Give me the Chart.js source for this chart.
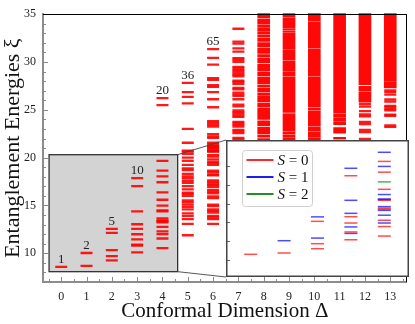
<!DOCTYPE html>
<html><head><meta charset="utf-8">
<script src="https://cdn.jsdelivr.net/npm/chart.js@4"></script>
<style>
html,body{margin:0;padding:0;background:#fff;}
#wrap{position:relative;width:415px;height:324px;overflow:hidden;}
#main{position:absolute;left:0;top:0;}
#inset{position:absolute;left:226px;top:140px;}
</style></head><body>
<div id="wrap"><canvas id="main" width="415" height="324"></canvas><canvas id="inset" width="183" height="137"></canvas></div>
<script>
// ---------- data: entanglement levels per conformal dimension ----------
const levels0 = [8.58];
const levels1 = [10.03, 8.68];
const levels2 = [12.56, 12.13, 10.34, 9.7, 9.26];
const levels3 = [17.87, 17.02, 14.39, 13.04, 12.56, 11.99, 11.45, 10.9, 10.8, 10.1];
const levels4 = [26.22, 25.5, 19.66, 18.64, 18.04, 17.43, 16.38, 15.6, 14.99, 14.49, 14.39, 13.65, 13.44, 13.35, 13.24, 12.77, 12.3, 12.0, 11.55, 10.54];
const levels5 = [27.81, 26.86, 26.36, 25.68, 23.01, 21.56, 20.64, 20.74, 20.41, 20.0, 19.66, 19.25, 18.89, 18.71, 18.31, 18.03, 17.83, 17.57, 17.37, 17.02, 16.69, 16.35, 16.21, 16.01, 15.54, 15.34, 15.1, 14.86, 14.59, 14.18, 13.92, 13.58, 13.07, 11.89];
const levels6 = [31.35, 30.44, 29.73, 28.31, 28.14, 27.57, 27.4, 26.86, 26.11, 25.27, 23.82, 23.65, 23.42, 23.25, 22.47, 22.23, 22.06, 21.56, 21.39, 21.22, 21.05, 20.82, 20.64, 21.18, 21.01, 20.74, 20.67, 20.26, 20.1, 19.83, 19.59, 19.42, 19.25, 18.64, 18.48, 18.24, 18.14, 17.63, 17.47, 17.29, 17.12, 16.96, 16.62, 16.45, 16.28, 15.95, 15.78, 15.1, 14.93, 14.59, 14.43, 14.26, 13.92, 13.75, 13.58, 13.07];
const levels7 = [33.48, 32.13, 31.93, 31.42, 31.08, 30.41, 30.24, 30.01, 29.5, 29.33, 29.16, 28.99, 28.82, 28.65, 28.49, 28.04, 27.91, 27.71, 27.3, 27.13, 26.79, 26.62, 26.46, 26.11, 25.55, 25.37, 24.94, 24.77, 24.6, 24.43, 24.26, 23.75, 23.58, 23.42, 23.25, 22.91, 22.74, 22.57, 22.06, 21.9, 21.73, 21.55, 21.39, 21.2, 21.0];
const levels12 = [25.61, 25.34, 24.87, 24.53, 24.33, 23.75, 23.52, 22.91, 22.67, 21.96, 21.73, 21.56];
const levels13 = [27.03, 26.85, 26.6, 26.1, 25.87, 25.42, 25.28, 25.08, 24.95, 24.5, 24.38, 23.38, 23.22];
const levelDeltas = [0, 1, 2, 3, 4, 5, 6, 7, 12, 13];
const levelLists = [levels0, levels1, levels2, levels3, levels4, levels5, levels6, levels7, levels12, levels13];

// dense, quasi-continuous parts of the spectrum: [low, high] bands
const bands8 = [[34.62,35.2],[33.95,34.5],[33.7,33.85],[33.2,33.6],[32.92,33.1],[32.6,32.82],[32.15,32.48],[31.58,32.03],[30.9,31.45],[30.56,30.78],[29.9,30.45],[29.05,29.77],[28.54,28.93],[27.7,28.42],[27.36,27.58],[26.85,27.24],[26.52,26.73],[25.84,26.4],[25.33,25.72],[23.99,25.2],[23.31,23.85],[22.47,23.18],[22.13,22.35],[20.8,22.0]];
const bands9 = [[34.72,35.2],[33.6,34.62],[33.36,33.5],[33.09,33.26],[31.4,32.99],[30.22,31.3],[29.1,30.12],[28.54,29.0],[24.82,28.44],[24.65,24.72],[22.79,24.55],[22.46,22.69],[22.12,22.36],[21.78,22.02],[20.8,21.68]];
const bands10 = [[34.27,35.2],[31.47,34.17],[28.54,31.37],[25.32,28.44],[24.99,25.22],[23.3,24.89],[22.79,23.2],[22.12,22.69],[21.61,22.02],[20.8,21.51]];
const bands11 = [[24.65,35.2],[24.21,24.55],[23.87,24.11],[23.45,23.77],[22.57,23.15],[21.96,22.13],[21.66,21.83]];
const bands12 = [[27.64,35.2],[26.95,27.45],[25.8,26.85]];
const bands13 = [[27.98,35.2],[27.3,27.9]];
const bandDeltas = [8, 9, 10, 11, 12, 13];
const bandLists = [bands8, bands9, bands10, bands11, bands12, bands13];

// multiplicity labels
const countDeltas = [0, 1, 2, 3, 4, 5, 6];
const countTexts = ['1', '2', '5', '10', '20', '36', '65'];

// inset: spin-resolved low-lying levels, columns Δ = 0..4 (arbitrary inset units)
const insetDeltas = [0, 1, 2, 3, 4];
const insetSpin0 = [[0.28], [0.35], [2.05, 0.85, 0.58], [4.5, 2.3, 1.96, 1.48, 1.06], [5.27, 4.69, 3.77, 3.18, 2.76, 2.7, 2.11, 1.77, 1.26]];
const insetSpin1 = [[], [1.01], [2.29, 1.15], [4.9, 3.18, 2.48, 1.75, 1.4], [5.76, 5.0, 3.49, 3.25, 3.22, 2.84, 2.64, 2.38, 1.96]];
const insetSpin2 = [[], [], [], [], [4.17]];
const spinLabels = ['S = 0', 'S = 1', 'S = 2'];

// ---------- helpers ----------
const SERIF = "'Liberation Serif', 'DejaVu Serif', serif";
function toPoints(deltas, lists) {
  const pts = [];
  lists.forEach((arr, i) => arr.forEach(v => pts.push({x: deltas[i], y: v})));
  return pts;
}
const zoomBox = {x0: -0.48, x1: 4.6, y0: 8.08, y1: 20.31};
const insetRect = {left: 226, top: 140, width: 183, height: 137};

const mainDecor = {
  id: 'mainDecor',
  beforeDatasetsDraw(chart) {
    const {ctx, scales: {x, y}} = chart;
    const l = x.getPixelForValue(zoomBox.x0), r = x.getPixelForValue(zoomBox.x1);
    const t = y.getPixelForValue(zoomBox.y1), b = y.getPixelForValue(zoomBox.y0);
    ctx.save();
    ctx.fillStyle = '#d3d3d3';
    ctx.fillRect(l, t, r - l, b - t);
    ctx.strokeStyle = '#333';
    ctx.lineWidth = 1.3;
    ctx.strokeRect(l, t, r - l, b - t);
    ctx.restore();
  },
  afterDatasetsDraw(chart) {
    const {ctx, scales: {x, y}} = chart;
    ctx.save();
    ctx.fillStyle = '#222';
    ctx.font = '13px ' + SERIF;
    ctx.textAlign = 'center';
    ctx.textBaseline = 'alphabetic';
    countDeltas.forEach((d, i) => {
      const idx = levelDeltas.indexOf(d);
      const top = Math.max(...levelLists[idx]);
      ctx.fillText(countTexts[i], x.getPixelForValue(d), y.getPixelForValue(top) - 4);
    });
    ctx.restore();
  },
  afterDraw(chart) {
    const {ctx, chartArea: {left, right, top, bottom}, scales: {x, y}} = chart;
    ctx.save();
    // inward ticks
    ctx.strokeStyle = '#888';
    ctx.lineWidth = 1;
    ctx.beginPath();
    for (let v = -0.5; v <= 13.5; v += 0.5) {
      const px = Math.round(x.getPixelForValue(v)) + 0.5;
      const len = Number.isInteger(v) ? 5 : 3;
      ctx.moveTo(px, bottom); ctx.lineTo(px, bottom - len);
    }
    for (let v = 8; v <= 34; v += 1) {
      const py = Math.round(y.getPixelForValue(v)) + 0.5;
      const len = v % 5 === 0 ? 5 : 3;
      ctx.moveTo(left, py); ctx.lineTo(left + len, py);
    }
    ctx.stroke();
    // top & right frame
    ctx.strokeStyle = '#000';
    ctx.beginPath();
    ctx.moveTo(left, Math.round(top) + 0.5); ctx.lineTo(right, Math.round(top) + 0.5);
    ctx.moveTo(Math.round(right) - 0.5, top); ctx.lineTo(Math.round(right) - 0.5, bottom);
    ctx.stroke();
    // connectors from zoom box to inset
    const r = x.getPixelForValue(zoomBox.x1);
    const t = y.getPixelForValue(zoomBox.y1), b = y.getPixelForValue(zoomBox.y0);
    ctx.strokeStyle = '#444';
    ctx.lineWidth = 0.9;
    ctx.beginPath();
    ctx.moveTo(r, t); ctx.lineTo(insetRect.left, insetRect.top);
    ctx.moveTo(r, b); ctx.lineTo(insetRect.left, insetRect.top + insetRect.height);
    ctx.stroke();
    ctx.restore();
  }
};

new Chart(document.getElementById('main'), {
  type: 'scatter',
  data: {
    datasets: [
      {
        type: 'bar', label: 'dense levels',
        data: bandLists.flatMap((arr, i) => arr.map(b => ({x: bandDeltas[i], y: b}))),
        backgroundColor: 'rgba(255,0,0,0.97)', borderWidth: 0, barThickness: 12, clip: 1, order: 2
      },
      {
        type: 'scatter', label: 'levels',
        data: toPoints(levelDeltas, levelLists),
        pointStyle: 'line', pointRadius: 6, pointHoverRadius: 6,
        borderColor: 'rgba(255,0,0,0.9)', backgroundColor: 'rgba(255,0,0,0.9)',
        borderWidth: 2.3, clip: 1, order: 1
      }
    ]
  },
  options: {
    responsive: false, animation: false, devicePixelRatio: 1, events: [],
    layout: {padding: {top: 4, right: 3, left: 0, bottom: 0}},
    plugins: {legend: {display: false}, tooltip: {enabled: false}},
    scales: {
      x: {
        type: 'linear', min: -0.72, max: 13.65, offset: false,
        grid: {display: false, drawTicks: false, offset: false},
        border: {display: true, color: '#8c8c8c', width: 2},
        ticks: {stepSize: 1, includeBounds: false, autoSkip: false, maxRotation: 0, padding: 8, color: '#222', font: {family: SERIF, size: 12}},
        title: {display: true, text: 'Conformal Dimension Δ', color: '#111', font: {family: SERIF, size: 21}, padding: {top: 0, bottom: 0}},
        afterFit(s) { s.height = 42; }
      },
      y: {
        type: 'linear', min: 7, max: 35, beginAtZero: false,
        grid: {display: false, drawTicks: false},
        border: {display: true, color: '#8c8c8c', width: 2},
        ticks: {stepSize: 5, includeBounds: false, padding: 7, color: '#222', font: {family: SERIF, size: 12}},
        title: {display: true, text: 'Entanglement Energies ξ', color: '#111', font: {family: SERIF, size: 22}, padding: {top: 0, bottom: 0}},
        afterFit(s) { s.width = 43; }
      }
    }
  },
  plugins: [mainDecor]
});

// ---------- inset ----------
const legendColors = ['rgb(255,40,40)', 'rgb(30,30,235)', 'rgb(40,140,40)'];
const insetDecor = {
  id: 'insetDecor',
  beforeDraw(chart) {
    const {ctx, width, height} = chart;
    ctx.save(); ctx.fillStyle = '#fff'; ctx.fillRect(0, 0, width, height); ctx.restore();
  },
  afterDraw(chart) {
    const {ctx, width, height, scales: {y}} = chart;
    ctx.save();
    // ticks on left edge
    ctx.strokeStyle = '#666'; ctx.lineWidth = 1;
    ctx.beginPath();
    for (let v = 0; v <= 5; v++) {
      const py = Math.round(y.getPixelForValue(v)) + 0.5;
      ctx.moveTo(0, py); ctx.lineTo(4, py);
    }
    ctx.stroke();
    // frame
    ctx.strokeStyle = '#444'; ctx.lineWidth = 1.5;
    ctx.strokeRect(0.75, 0.75, width - 1.5, height - 1.5);
    // legend
    const lx = 16.5, ly = 10.5, lw = 70, lh = 56;
    ctx.fillStyle = 'rgba(255,255,255,0.85)';
    ctx.strokeStyle = '#d0d0d0'; ctx.lineWidth = 1;
    ctx.beginPath();
    if (ctx.roundRect) ctx.roundRect(lx, ly, lw, lh, 3); else ctx.rect(lx, ly, lw, lh);
    ctx.fill(); ctx.stroke();
    chart.data.datasets.forEach((ds, i) => {
      const cy = 20 + i * 17;
      ctx.strokeStyle = legendColors[i]; ctx.lineWidth = 2;
      ctx.beginPath(); ctx.moveTo(lx + 4, cy); ctx.lineTo(lx + 31, cy); ctx.stroke();
      const parts = ds.label.split(' ');
      ctx.fillStyle = '#111'; ctx.textBaseline = 'middle'; ctx.textAlign = 'left';
      ctx.font = 'italic 15px ' + SERIF;
      let tx = lx + 35;
      ctx.fillText(parts[0], tx, cy + 1);
      tx += ctx.measureText(parts[0]).width;
      ctx.font = '15px ' + SERIF;
      ctx.fillText(' ' + parts.slice(1).join(' '), tx, cy + 1);
    });
    ctx.restore();
  }
};

const insetDataset = (label, lists, color) => ({
  label, data: toPoints(insetDeltas, lists),
  pointStyle: 'line', pointRadius: 6.5, pointHoverRadius: 6.5,
  borderColor: color, backgroundColor: color, borderWidth: 1.5
});

new Chart(document.getElementById('inset'), {
  type: 'scatter',
  data: {
    datasets: [
      insetDataset(spinLabels[0], insetSpin0, 'rgba(255,0,0,0.7)'),
      insetDataset(spinLabels[1], insetSpin1, 'rgba(0,0,255,0.7)'),
      insetDataset(spinLabels[2], insetSpin2, 'rgba(0,128,0,0.65)')
    ]
  },
  options: {
    responsive: false, animation: false, devicePixelRatio: 1, events: [],
    layout: {padding: 0},
    plugins: {legend: {display: false}, tooltip: {enabled: false}},
    scales: {
      x: {type: 'linear', min: -0.5, max: 4.5, display: false},
      y: {type: 'linear', min: -0.51, max: 5.99, display: false}
    }
  },
  plugins: [insetDecor]
});
</script>
</body></html>
